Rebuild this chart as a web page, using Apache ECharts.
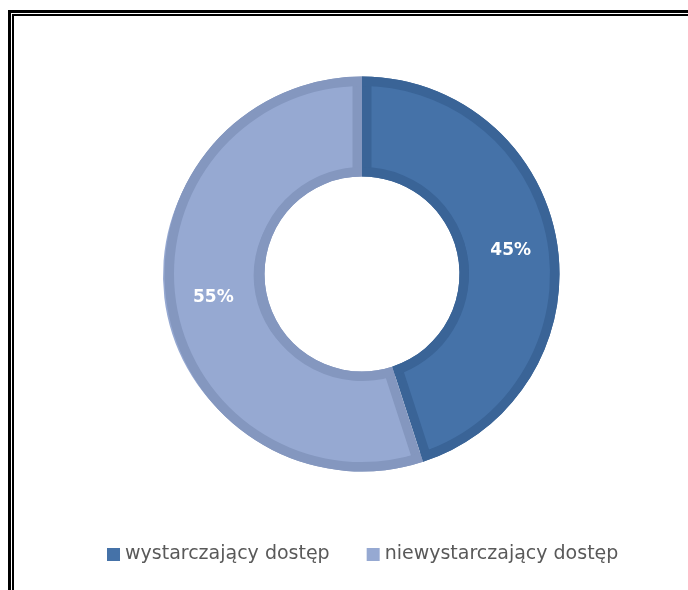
<!DOCTYPE html>
<html>
<head>
<meta charset="utf-8">
<script src="https://cdn.jsdelivr.net/npm/echarts@6/dist/echarts.min.js"></script>
<style>
html,body{margin:0;padding:0;background:#fff;}
#chart{width:688px;height:590px;}
</style>
</head>
<body>
<div id="chart"></div>
<script>
// ---- data ----
const categories = ['wystarczający dostęp', 'niewystarczający dostęp'];
const values = [45, 55];
const labels = ['45%', '55%'];

// ---- styles ----
const fillColors = ['#4572A8', '#96A9D2'];
const borderColors = ['#3A6497', '#8497BF'];
const C = [362, 274];
const R_IN = 97.5, R_OUT = 197.5, BW = 9.5;

const chart = echarts.init(document.getElementById('chart'), null, {renderer: 'canvas'});

const total = values.reduce((a, b) => a + b, 0);
function sliceData(colorFn, labelOn) {
  return categories.map((name, i) => ({
    name: name,
    value: values[i],
    itemStyle: {color: colorFn(i)},
    label: labelOn ? {show: true, formatter: labels[i]} : {show: false}
  }));
}
const common = {
  type: 'pie',
  startAngle: 90,
  clockwise: true,
  silent: true,
  animation: false,
  avoidLabelOverlap: false,
  label: {show: false},
  labelLine: {show: false},
  emphasis: {disabled: true}
};
// each slice fill gets its own centre, moved along its bisector so that its
// radial edges sit BW px inside the seams (the base ring shows through as border)
const fillSeries = categories.map((_, i) => {
  let before = 0;
  for (let k = 0; k < i; k++) before += values[k];
  const a0 = before / total * 2 * Math.PI;
  const a1 = (before + values[i]) / total * 2 * Math.PI;
  const mid = (a0 + a1) / 2, half = (a1 - a0) / 2;
  const d = BW / Math.sin(half);
  const off = d * Math.cos(half);
  return Object.assign({}, common, {
    center: [C[0] + d * Math.sin(mid), C[1] - d * Math.cos(mid)],
    radius: [R_IN + BW - d + Math.max(0, -off), R_OUT - BW - off],
    data: sliceData(k => k === i ? fillColors[k] : 'rgba(0,0,0,0)', false)
  });
});

const option = {
  backgroundColor: '#ffffff',
  animation: false,
  legend: {
    data: categories.map((n, i) => ({name: n, itemStyle: {color: fillColors[i]}})),
    left: 107,
    top: 545,
    padding: 0,
    itemWidth: 13,
    itemHeight: 13,
    itemGap: 37,
    icon: 'rect',
    selectedMode: false,
    textStyle: {fontFamily: 'DejaVu Sans', fontSize: 19, color: '#595959'}
  },
  graphic: [
    {type: 'rect', z: 100, silent: true, shape: {x: 9.5, y: 11.5, width: 760, height: 660},
     style: {fill: null, stroke: '#000', lineWidth: 3}},
    {type: 'rect', z: 100, silent: true, shape: {x: 13, y: 15, width: 760, height: 660},
     style: {fill: null, stroke: '#000', lineWidth: 2}}
  ],
  series: [
    Object.assign({}, common, {center: C, radius: [R_IN, R_OUT], data: sliceData(i => borderColors[i], false)}),
    ...fillSeries,
    Object.assign({}, common, {center: C, radius: [R_OUT - BW, R_OUT], data: sliceData(i => borderColors[i], false)}),
    Object.assign({}, common, {center: C, radius: [R_IN, R_IN + BW], data: sliceData(i => borderColors[i], false)}),
    Object.assign({}, common, {
      center: C, radius: [R_IN, R_OUT],
      label: {show: true, position: 'inside', color: '#ffffff', fontFamily: 'DejaVu Sans', fontWeight: 'bold', fontSize: 17},
      data: sliceData(() => 'rgba(0,0,0,0)', true)
    })
  ]
};
chart.setOption(option);
</script>
</body>
</html>
